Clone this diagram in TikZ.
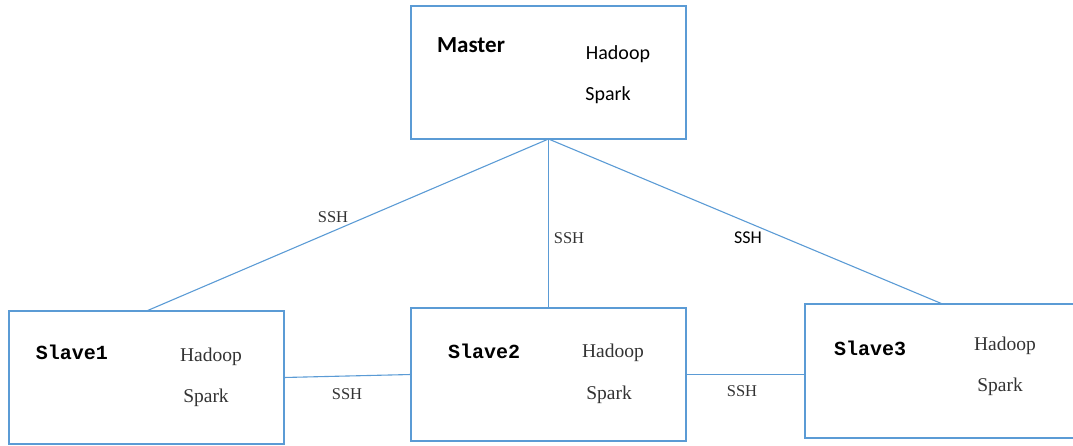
\documentclass[tikz,border=0pt]{standalone}
\usepackage{fontspec}
\newfontfamily\carlito{Carlito}
\newfontfamily\lmono{Liberation Mono}
\newfontfamily\lserif{Liberation Serif}
\definecolor{edgeblue}{RGB}{91,155,213}
\definecolor{txtgray}{RGB}{51,51,51}
\tikzset{
  box/.style={draw=edgeblue, line width=1.2pt, minimum width=275pt, inner sep=0pt, outer sep=0pt},
  link/.style={draw=edgeblue, line width=1.1pt},
  mastertitle/.style={font=\carlito\bfseries\fontsize{23}{26}\selectfont, text=black, inner sep=0pt},
  mastersw/.style={font=\carlito\fontsize{20}{23}\selectfont, text=black, inner sep=0pt},
  slavetitle/.style={font=\lmono\bfseries\fontsize{20}{23}\selectfont, text=black, inner sep=0pt},
  slavesw/.style={font=\lserif\fontsize{19.5}{22}\selectfont, text=txtgray, inner sep=0pt},
  sshserif/.style={font=\lserif\fontsize{16.5}{19}\selectfont, text=txtgray, inner sep=0pt},
  sshsans/.style={font=\carlito\fontsize{18}{21}\selectfont, text=black, inner sep=0pt}
}
\begin{document}
\begin{tikzpicture}[x=1pt,y=-1pt]
\useasboundingbox (0,0) rectangle (1073,446);
\clip (0,0) rectangle (1073,446);
% boxes
\node[box, minimum height=133pt] (master) at (548.5,72.5) {};
\node[box, minimum height=133pt] (slave1) at (146.5,377.5) {};
\node[box, minimum height=133pt] (slave2) at (548.5,374.5) {};
\node[box, minimum height=134pt] (slave3) at (942.5,371) {};
% texts
\node[mastertitle] (mt) at (471,45) {Master};
\node[mastersw] (mh) at (618,54) {Hadoop};
\node[mastersw] (ms) at (608,95) {Spark};
\node[slavetitle] (s1t) at (72,352) {Slave1};
\node[slavesw] (s1h) at (211,357) {Hadoop};
\node[slavesw] (s1s) at (206,398) {Spark};
\node[slavetitle] (s2t) at (484,351) {Slave2};
\node[slavesw] (s2h) at (613,353) {Hadoop};
\node[slavesw] (s2s) at (609,395) {Spark};
\node[slavetitle] (s3t) at (870,348) {Slave3};
\node[slavesw] (s3h) at (1005,346) {Hadoop};
\node[slavesw] (s3s) at (1000,387) {Spark};
% connectors
\draw[link] (master.south) -- (slave1.north);
\draw[link] (master.south) -- (slave2.north);
\draw[link] (master.south) -- (slave3.north);
\draw[link] (slave1.east) -- (slave2.west);
\draw[link] (slave2.east) -- (slave2.east -| slave3.west);
% labels
\node[sshserif] (l1) at (333,217) {SSH};
\node[sshserif] (l2) at (569,238) {SSH};
\node[sshsans] (l3) at (748,238) {SSH};
\node[sshserif] (l4) at (347,394) {SSH};
\node[sshserif] (l5) at (742,391) {SSH};
\end{tikzpicture}
\end{document}
